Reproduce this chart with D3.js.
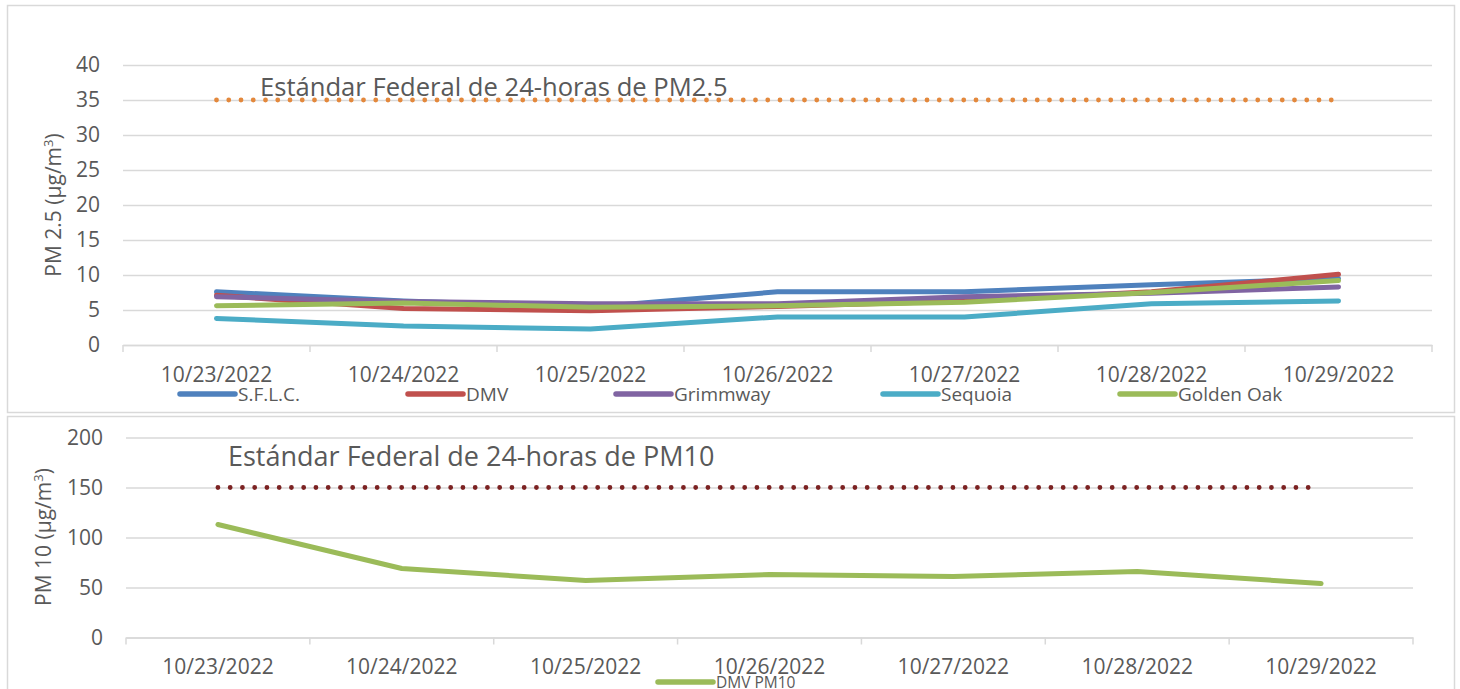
<!DOCTYPE html>
<html>
<head>
<meta charset="utf-8">
<script src="https://cdn.jsdelivr.net/npm/d3@7"></script>
<style>
  body { margin: 0; background: #fff; }
  svg text { font-family: "Open Sans", sans-serif; fill: #595959; }
</style>
</head>
<body>
<svg width="1460" height="689"></svg>
<script>
const dates = ["10/23/2022", "10/24/2022", "10/25/2022", "10/26/2022", "10/27/2022", "10/28/2022", "10/29/2022"];

// PM2.5 values by site
const sflc      = [7.6, 6.3, 5.4, 7.6, 7.6, 8.6, 9.5];
const dmv       = [7.1, 5.2, 4.9, 5.5, 6.3, 7.6, 10.1];
const grimmway  = [6.9, 6.2, 5.9, 5.9, 6.9, 7.4, 8.3];
const sequoia   = [3.8, 2.7, 2.3, 4.0, 4.0, 5.9, 6.3];
const goldenOak = [5.6, 6.0, 5.4, 5.6, 6.1, 7.5, 9.2];

// PM10 at DMV
const dmvPm10 = [113, 69, 57, 63, 61, 66, 54];

const pm25Ticks = [0, 5, 10, 15, 20, 25, 30, 35, 40];
const pm10Ticks = [0, 50, 100, 150, 200];
const pm25Std = 35;
const pm10Std = 150;

const series25 = [
  {name: "S.F.L.C.", values: sflc, color: "#4f81bd"},
  {name: "DMV", values: dmv, color: "#c0504d"},
  {name: "Grimmway", values: grimmway, color: "#8064a2"},
  {name: "Sequoia", values: sequoia, color: "#4bacc6"},
  {name: "Golden Oak", values: goldenOak, color: "#9bbb59"}
];

const svg = d3.select("svg");
const grid = "#d9d9d9";

// frames
svg.append("rect").attr("x", 7.5).attr("y", 5.5).attr("width", 1447).attr("height", 407)
  .attr("fill", "none").attr("stroke", grid).attr("stroke-width", 1.5);
svg.append("rect").attr("x", 7.5).attr("y", 416.5).attr("width", 1447).attr("height", 300)
  .attr("fill", "none").attr("stroke", grid).attr("stroke-width", 1.5);

function drawPanel(opt) {
  const x = d3.scaleBand().domain(dates).range([opt.left, opt.right]);
  const y = d3.scaleLinear().domain([0, opt.max]).range([opt.bottom, opt.top]);
  const g = svg.append("g");

  // gridlines + y labels
  const ya = g.append("g").attr("transform", `translate(${opt.left},0)`)
    .call(d3.axisLeft(y).tickValues(opt.ticks).tickSize(-(opt.right - opt.left)).tickPadding(23));
  ya.select(".domain").remove();
  ya.selectAll("line").attr("stroke", grid).attr("stroke-width", 1.5);
  ya.selectAll("text").style("font-size", "21px").attr("fill", "#595959").attr("font-family", "Open Sans");

  // category axis
  const xa = g.append("g").attr("transform", `translate(0,${opt.bottom})`)
    .call(d3.axisBottom(x).tickSize(0).tickPadding(opt.labelPad));
  xa.select(".domain").attr("stroke", grid).attr("stroke-width", 1.5);
  xa.selectAll("text").style("font-size", "21px").attr("fill", "#595959").attr("font-family", "Open Sans");
  const edges = dates.map(d => x(d)).concat([x.range()[1]]);
  g.selectAll(".edge").data(edges).join("line")
    .attr("x1", d => d).attr("x2", d => d)
    .attr("y1", opt.bottom).attr("y2", opt.bottom + 7)
    .attr("stroke", grid).attr("stroke-width", 1.5);

  // standard line
  const cx = d => x(d) + x.bandwidth() / 2;
  g.append("line")
    .attr("x1", cx(dates[0])).attr("x2", cx(dates[dates.length - 1]) - 6)
    .attr("y1", y(opt.std)).attr("y2", y(opt.std))
    .attr("stroke", opt.stdColor).attr("stroke-width", 4.8)
    .attr("stroke-linecap", "round").attr("stroke-dasharray", "0 12.25");
  g.append("text").attr("x", opt.stdX).attr("y", y(opt.std) + opt.stdDy)
    .style("font-size", opt.stdSize).text(opt.stdText);

  // y title
  const t = g.append("text")
    .attr("transform", `translate(${opt.titleX},${opt.titleY}) rotate(-90)`)
    .attr("text-anchor", "middle").style("font-size", "21px");
  t.append("tspan").text(opt.titleText + " (µg/m");
  t.append("tspan").attr("dy", -8).style("font-size", "13px").text("3");
  t.append("tspan").attr("dy", 8).text(")");

  const line = d3.line().x((d, i) => cx(dates[i])).y(d => y(d));
  g.selectAll(".series").data(opt.series).join("path")
    .attr("d", s => line(s.values))
    .attr("fill", "none").attr("stroke", s => s.color)
    .attr("stroke-width", 5).attr("stroke-linecap", "round").attr("stroke-linejoin", "round");
  return {x, y};
}

drawPanel({
  left: 123, right: 1432, top: 65, bottom: 345, max: 40, ticks: pm25Ticks,
  labelPad: 22, std: pm25Std, stdColor: "#e3883c",
  stdX: 260, stdDy: -4, stdSize: "25.6px", stdText: "Estándar Federal de 24-horas de PM2.5",
  titleX: 61, titleY: 205, titleText: "PM 2.5",
  series: series25
});

drawPanel({
  left: 126, right: 1413, top: 437.5, bottom: 637.5, max: 200, ticks: pm10Ticks,
  labelPad: 22, std: pm10Std, stdColor: "#7b2222",
  stdX: 228, stdDy: -22, stdSize: "27px", stdText: "Estándar Federal de 24-horas de PM10",
  titleX: 51, titleY: 537, titleText: "PM 10",
  series: [{name: "DMV PM10", values: dmvPm10, color: "#9bbb59"}]
});

// legends
const legendX = [180, 408, 616, 883, 1120];
const lg = svg.append("g").selectAll("g").data(series25).join("g")
  .attr("transform", (d, i) => `translate(${legendX[i]},394)`);
lg.append("line").attr("x1", 0).attr("x2", 55)
  .attr("stroke", d => d.color).attr("stroke-width", 5.5).attr("stroke-linecap", "round");
lg.append("text").attr("x", 58).attr("y", 7).style("font-size", "19px").text(d => d.name);

const lg2 = svg.append("g").attr("transform", "translate(658,682)");
lg2.append("line").attr("x1", 0).attr("x2", 55)
  .attr("stroke", "#9bbb59").attr("stroke-width", 5.5).attr("stroke-linecap", "round");
lg2.append("text").attr("x", 58).attr("y", 6).style("font-size", "15.5px").text("DMV PM10");
</script>
</body>
</html>
